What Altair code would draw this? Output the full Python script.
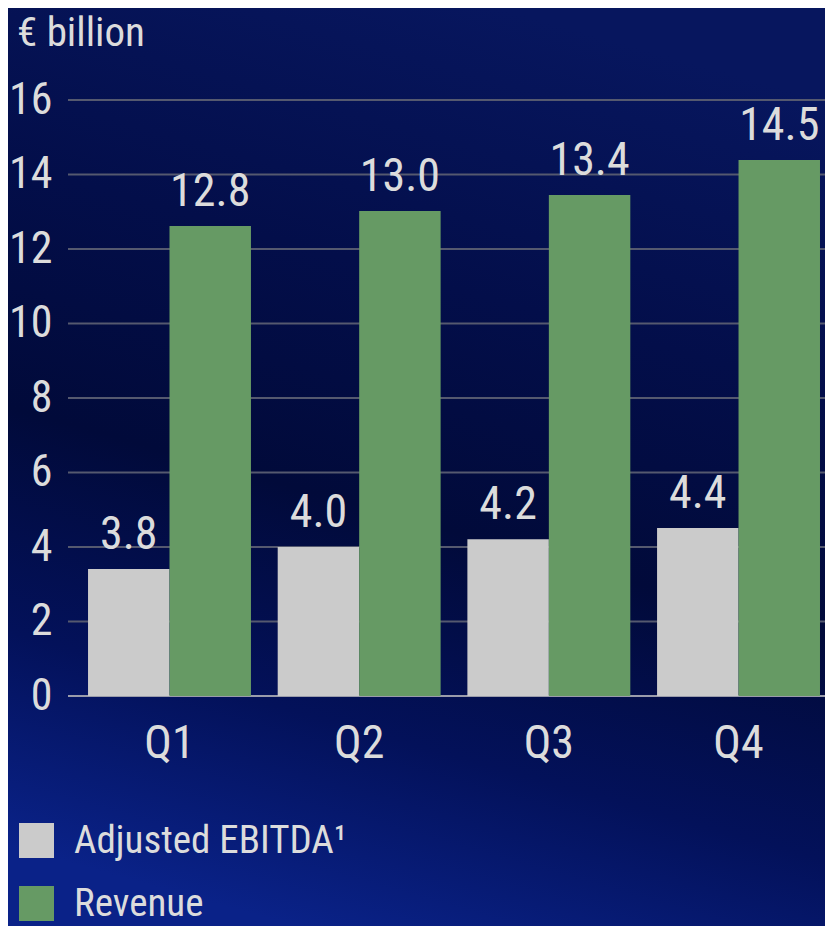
import altair as alt
import pandas as pd

quarters = ["Q1", "Q2", "Q3", "Q4"]
series_names = ["Adjusted EBITDA¹", "Revenue"]
ebitda_bar = [3.41, 4.00, 4.21, 4.51]
revenue_bar = [12.62, 13.02, 13.45, 14.39]
ebitda_labels = ["3.8", "4.0", "4.2", "4.4"]
revenue_labels = ["12.8", "13.0", "13.4", "14.5"]
y_ticks = [0, 2, 4, 6, 8, 10, 12, 14, 16]
unit_title = ["€ billion"]

rows = []
for q, v, t in zip(quarters, ebitda_bar, ebitda_labels):
    rows.append({"quarter": q, "series": series_names[0], "value": v, "label": t})
for q, v, t in zip(quarters, revenue_bar, revenue_labels):
    rows.append({"quarter": q, "series": series_names[1], "value": v, "label": t})
df = pd.DataFrame(rows)
ticks_df = pd.DataFrame({"tick": y_ticks})
title_df = pd.DataFrame({"t": unit_title})

FONT = "Liberation Sans Narrow, Roboto Condensed, DejaVu Sans Condensed, Liberation Sans, sans-serif"
TXT = "#dcdcdc"
W, H = 757, 596

yscale = alt.Scale(domain=[0, 16], nice=False, zero=True)
xscale = alt.Scale(paddingInner=0.141, paddingOuter=0.066, align=0.8)

bg = alt.Chart(title_df).mark_rect().encode(
    x=alt.value(-60), x2=alt.value(W), y=alt.value(-92), y2=alt.value(826),
    color=alt.value({
        "gradient": "linear", "x1": 0.6, "y1": 0, "x2": 0.35, "y2": 1,
        "stops": [
            {"offset": 0, "color": "#07165e"},
            {"offset": 0.3, "color": "#030e4a"},
            {"offset": 0.55, "color": "#010a3a"},
            {"offset": 0.78, "color": "#03115a"},
            {"offset": 1, "color": "#0a2288"},
        ],
    }),
)

grid = alt.Chart(ticks_df).mark_rule(strokeWidth=2).encode(
    y=alt.Y("tick:Q", scale=yscale),
    x=alt.value(0), x2=alt.value(W),
    color=alt.condition(alt.datum.tick == 0, alt.value("#9a9cab"), alt.value("#55596f")),
)

bars = alt.Chart(df).mark_bar().encode(
    x=alt.X("quarter:N", sort=quarters, scale=xscale,
            axis=alt.Axis(title=None, labelAngle=0, ticks=False, domain=False, grid=False,
                          labelFontSize=46, labelFont=FONT, labelColor=TXT, labelPadding=25,
                          zindex=1)),
    xOffset=alt.XOffset("series:N", sort=series_names,
                        scale=alt.Scale(paddingInner=0, paddingOuter=0)),
    y=alt.Y("value:Q", scale=yscale,
            axis=alt.Axis(title=None, values=y_ticks, ticks=False, domain=False, grid=False,
                          labelFontSize=44, labelFont=FONT, labelColor=TXT, labelPadding=16,
                          zindex=1)),
    color=alt.Color("series:N", sort=series_names,
                    scale=alt.Scale(domain=series_names, range=["#cbcbcb", "#669a64"]),
                    legend=alt.Legend(title=None, orient="none", legendX=-51, legendY=721,
                                      direction="vertical", symbolType="square",
                                      symbolSize=1225, symbolStrokeWidth=0, labelFontSize=39,
                                      labelFont=FONT, labelColor=TXT, labelOffset=18,
                                      rowPadding=23, padding=0, labelLimit=600)),
)

labels = alt.Chart(df).mark_text(baseline="alphabetic", align="center", dy=-20,
                                 fontSize=46, font=FONT, color=TXT).encode(
    x=alt.X("quarter:N", sort=quarters, scale=xscale),
    xOffset=alt.XOffset("series:N", sort=series_names),
    y=alt.Y("value:Q", scale=yscale),
    text="label:N",
)

title = alt.Chart(title_df).mark_text(align="left", baseline="alphabetic", fontSize=41,
                                      font=FONT, color=TXT).encode(
    x=alt.value(-51), y=alt.value(-54), text="t:N",
)

chart = alt.layer(bg, grid, bars, labels, title).properties(
    width=W, height=H,
    autosize=alt.AutoSizeParams(type="none"),
    padding={"left": 60, "top": 92, "right": 0, "bottom": 230},
).configure(background="#020c45").configure_view(stroke=None)

chart.save("out.html", embed_options={"renderer": "svg", "actions": False})
